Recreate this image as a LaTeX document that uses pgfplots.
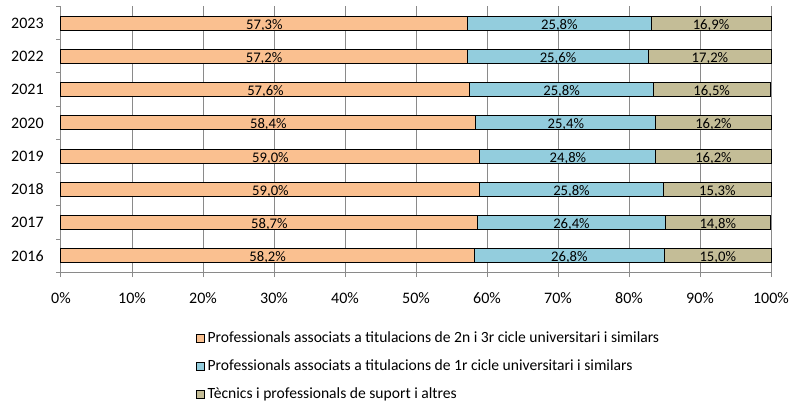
\documentclass[border=0pt]{standalone}
\usepackage{pgfplots}
\usepackage{pgfplotstable}
\pgfplotsset{compat=1.18}
\usepackage{fontspec}
\setmainfont{Carlito}
\definecolor{cA}{HTML}{FAC090}
\definecolor{cB}{HTML}{93CDDD}
\definecolor{cC}{HTML}{C4BD97}
\definecolor{gridc}{HTML}{8A8A8A}
\pgfplotstableread{
y a b c
0 58.2 26.8 15.0
1 58.7 26.4 14.8
2 59.0 25.8 15.3
3 59.0 24.8 16.2
4 58.4 25.4 16.2
5 57.6 25.8 16.5
6 57.2 25.6 17.2
7 57.3 25.8 16.9
}\datatable
\pgfplotsset{
  seg/.style={draw=black, line width=0.75pt,
    legend image code/.code={\draw[##1,draw=black,line width=0.6pt] (0pt,-3pt) rectangle (6pt,3pt);},
    visualization depends on={\thisrow{#1} \as \segw},
    nodes near coords={\pgfmathprintnumber[fixed,fixed zerofill,precision=1,use comma,assume math mode=true]{\segw}\%},
    every node near coord/.append style={anchor=center, font=\fontsize{11}{13}\selectfont, text=black,
      yshift=-1.5pt}},
}
\begin{document}
\begin{tikzpicture}[x=1pt,y=1pt]
\useasboundingbox (0,0) rectangle (594.75,302.25);
\begin{axis}[
  at={(45.75pt,97.875pt)}, anchor=south west,
  scale only axis, width=532.5pt, height=199.5pt,
  xbar stacked, bar width=0.42, clip=false,
  xmin=0, xmax=100, ymin=-0.5, ymax=7.5,
  axis x line*=bottom, axis y line*=left,
  axis line style={gridc, line width=0.75pt},
  xtick={0,10,...,100},
  xticklabels={0\%,10\%,20\%,30\%,40\%,50\%,60\%,70\%,80\%,90\%,100\%},
  xmajorgrids, grid style={gridc, line width=0.75pt},
  ytick={0,...,7}, yticklabels={2016,2017,2018,2019,2020,2021,2022,2023},
  minor ytick={-0.5,0.5,...,7.5},
  major tick length=3.5pt, minor tick length=3.5pt,
  tick align=outside,
  major y tick style={draw=none},
  minor y tick style={gridc, line width=0.75pt},
  major x tick style={gridc, line width=0.75pt},
  tick label style={font=\fontsize{12}{14}\selectfont, text=black},
  yticklabel style={xshift=-6pt},
  xticklabel style={yshift=-8pt},
  legend style={at={(0.19,-0.213)}, anchor=north west, draw=none, fill=none,
    font=\fontsize{11.7}{13}\selectfont, row sep=7.3pt, inner sep=0pt},
  legend cell align=left,
]
\addplot[fill=cA, seg=a] table[x=a, y=y]{\datatable};
\addplot[fill=cB, seg=b] table[x=b, y=y]{\datatable};
\addplot[fill=cC, seg=c] table[x=c, y=y]{\datatable};
\legend{Professionals associats a titulacions de 2n i 3r cicle universitari i similars,
Professionals associats a titulacions de 1r cicle universitari i similars,
Tècnics i professionals de suport i altres}
\end{axis}
\end{tikzpicture}
\end{document}
